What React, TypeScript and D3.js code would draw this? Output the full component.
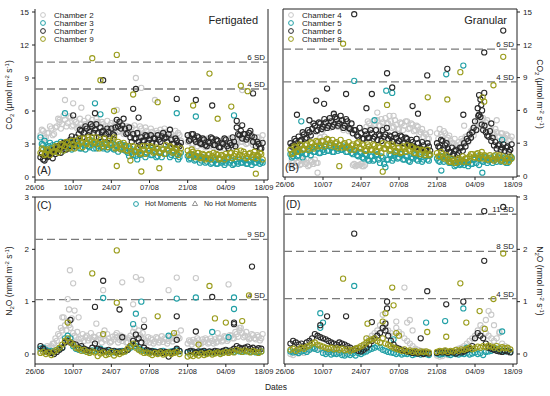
import React from 'react';
import * as d3 from 'd3';

// measurement days, counted from 26/06
const days = [
  2, 3, 4, 5, 6, 7, 8, 9, 10, 11,
  12, 13, 14, 15, 16, 17, 18, 19, 20, 21,
  22, 23, 24, 25, 26, 27, 28, 29, 30, 31,
  32, 33, 34, 35, 36, 37, 38, 39, 40, 41,
  42, 43, 44, 45, 46, 47, 48, 49, 50, 51,
  52, 53,
  56, 57, 58, 59, 60, 61, 62, 63, 64, 65,
  66, 67, 68, 69, 70, 71, 72, 73, 74, 75,
  76, 77, 78, 79, 80, 81, 82, 83,
];

const dateTicks = ['26/06', '10/07', '24/07', '07/08', '21/08', '04/09', '18/09'];

// ---- CO2, fertigated (two readings a day)
const co2Ch2 = [3.8, 4.2, 3.6, 4.0, 4.4, 3.9, 4.6, 5.0, 4.8, 5.2, 4.9, 5.4, 4.7, 5.0, 4.5, 4.8, 5.1, 4.6, 4.9, 5.2, 4.7, 5.0, 4.4, 4.8, 4.6, 4.3, 4.9, 4.5, 4.7, 4.2, 4.4, 4.0, 4.6, 4.1, 3.8, 4.3, 4.0, 4.4, 3.9, 4.2, 3.9, 4.1, 3.7, 4.0, 4.3, 3.8, 4.1, 3.6, 3.9, 3.7, 3.5, 3.8, 3.2, 3.5, 3.0, 3.4, 3.1, 2.9, 3.3, 3.0, 2.8, 3.1, 2.9, 3.2, 2.8, 3.0, 3.3, 2.9, 3.1, 3.4, 3.0, 3.6, 3.2, 3.5, 3.1, 3.3, 2.9, 3.2, 3.6, 3.4];
const co2Ch2b = [4.3, 3.5, 4.0, 4.6, 3.8, 4.5, 5.3, 4.4, 5.6, 4.6, 5.5, 4.6, 5.2, 4.4, 5.3, 4.5, 4.8, 5.4, 4.4, 4.6, 5.3, 4.5, 5.0, 4.2, 5.1, 4.7, 4.3, 5.0, 4.1, 4.8, 3.9, 4.6, 4.2, 4.5, 4.7, 3.9, 4.6, 3.8, 4.5, 3.7, 4.4, 3.6, 4.2, 3.5, 3.9, 4.4, 3.6, 4.3, 3.5, 4.2, 4.0, 3.3, 3.6, 3.0, 3.5, 2.8, 3.4, 3.2, 2.7, 3.5, 3.2, 2.7, 3.4, 2.7, 3.3, 2.6, 3.0, 3.5, 2.7, 3.0, 3.7, 3.2, 3.7, 3.0, 3.4, 3.8, 3.3, 3.6, 3.1, 3.8];
const co2Ch3 = [3.6, 2.9, 2.6, 2.8, 2.4, 2.7, 3.0, 2.6, 2.8, 3.1, 2.7, 2.9, 3.2, 2.8, 3.0, 2.6, 2.9, 3.1, 2.7, 3.3, 3.0, 2.8, 3.2, 2.6, 2.9, 2.7, 3.1, 2.5, 2.8, 2.6, 2.9, 2.4, 2.2, 2.6, 2.0, 1.9, 2.3, 2.1, 2.5, 2.2, 2.4, 2.0, 2.3, 1.9, 2.2, 2.5, 2.1, 2.4, 2.0, 2.3, 2.1, 1.8, 1.9, 1.7, 2.0, 1.6, 1.8, 1.5, 1.7, 1.4, 1.6, 1.3, 1.5, 1.2, 1.6, 1.4, 1.3, 1.7, 1.5, 1.2, 1.4, 1.6, 1.3, 1.5, 1.2, 1.4, 1.6, 1.3, 1.5, 1.4];
const co2Ch3b = [3.0, 3.3, 2.3, 3.1, 2.9, 2.3, 2.6, 3.2, 2.4, 2.7, 3.2, 2.5, 2.8, 3.3, 2.6, 3.1, 2.5, 2.8, 3.2, 2.6, 2.6, 3.1, 2.7, 3.0, 2.5, 3.1, 2.6, 2.9, 2.3, 3.0, 2.5, 2.8, 1.9, 2.3, 2.4, 1.6, 2.0, 2.5, 1.8, 2.6, 2.0, 2.5, 1.8, 2.3, 1.8, 2.1, 2.6, 1.8, 2.4, 1.9, 1.6, 2.2, 1.6, 2.0, 1.5, 1.9, 1.3, 1.8, 1.3, 1.7, 1.2, 1.6, 1.2, 1.6, 1.3, 1.1, 1.6, 1.3, 1.1, 1.6, 1.2, 1.3, 1.6, 1.2, 1.5, 1.1, 1.3, 1.6, 1.2, 1.3];
const co2Ch7 = [1.8, 1.6, 2.0, 1.9, 2.2, 2.5, 2.4, 2.8, 2.7, 3.0, 3.2, 3.4, 3.1, 3.6, 3.9, 4.2, 4.0, 4.4, 4.1, 4.6, 4.3, 4.0, 4.5, 4.2, 3.9, 4.1, 4.4, 3.8, 5.2, 5.0, 4.7, 4.4, 4.0, 3.6, 3.9, 3.5, 3.2, 3.6, 3.3, 3.7, 3.4, 3.1, 3.5, 3.8, 3.2, 4.0, 3.6, 3.9, 3.4, 3.0, 3.3, 2.8, 3.8, 3.4, 3.9, 3.2, 3.6, 3.0, 3.4, 2.8, 3.1, 3.5, 2.9, 3.3, 2.7, 3.0, 3.4, 2.6, 2.9, 3.2, 4.5, 3.8, 3.5, 3.9, 3.6, 4.2, 3.2, 2.8, 3.0, 2.6];
const co2Ch7b = [2.1, 1.5, 1.8, 2.3, 1.7, 2.1, 2.8, 2.2, 3.1, 2.5, 2.8, 3.7, 2.8, 3.3, 4.3, 3.6, 4.6, 3.8, 4.8, 4.0, 4.8, 3.6, 4.1, 3.6, 4.4, 3.5, 3.9, 4.5, 4.6, 4.4, 5.3, 3.9, 4.5, 3.2, 3.5, 4.0, 2.9, 3.3, 3.8, 3.1, 3.8, 3.5, 3.0, 3.4, 3.7, 3.5, 3.2, 4.3, 3.0, 3.5, 2.9, 3.1, 3.3, 3.9, 3.4, 3.7, 3.1, 3.5, 2.9, 3.2, 3.6, 2.9, 3.4, 2.7, 3.1, 3.5, 2.8, 3.1, 3.6, 2.8, 3.9, 4.2, 3.9, 3.4, 4.0, 3.7, 3.6, 3.2, 2.6, 3.1];
const co2Ch9 = [2.2, 2.5, 2.1, 2.4, 2.6, 2.3, 2.7, 2.5, 2.9, 2.8, 3.1, 2.7, 3.0, 3.3, 2.9, 3.2, 3.5, 3.0, 3.4, 3.6, 3.2, 3.0, 3.4, 2.8, 3.1, 3.3, 2.9, 3.6, 2.7, 3.0, 2.6, 2.9, 2.4, 1.5, 2.8, 2.3, 2.6, 2.2, 2.5, 2.8, 2.4, 2.7, 2.3, 2.6, 2.2, 2.5, 2.9, 2.4, 2.7, 2.3, 2.5, 2.2, 2.4, 2.1, 2.3, 1.9, 2.2, 1.8, 2.0, 1.7, 2.1, 1.9, 1.8, 2.0, 1.7, 1.9, 2.1, 1.8, 2.2, 1.9, 2.3, 2.0, 1.9, 2.1, 1.8, 2.2, 2.0, 1.7, 1.9, 2.1];
const co2Ch9b = [2.6, 2.0, 2.5, 2.0, 2.3, 2.8, 2.2, 3.0, 2.4, 3.2, 2.6, 3.3, 2.6, 2.8, 3.5, 2.7, 3.1, 3.6, 2.9, 3.1, 3.6, 2.6, 3.0, 3.5, 2.7, 2.9, 3.4, 2.6, 3.2, 2.5, 3.1, 2.4, 2.8, 2.1, 2.3, 2.7, 2.1, 2.8, 2.1, 2.4, 2.8, 2.2, 2.7, 2.2, 2.6, 2.1, 2.5, 2.8, 2.2, 2.6, 2.0, 2.6, 2.0, 2.5, 1.8, 2.2, 1.7, 2.1, 1.6, 2.0, 1.6, 2.2, 2.1, 1.6, 2.0, 1.6, 1.8, 2.2, 1.7, 2.1, 1.8, 2.4, 2.3, 1.7, 2.1, 1.8, 2.3, 2.0, 2.2, 1.6];

// high / scattered readings: [day, value]
const co2Ch2Peaks = [[11, 7.0], [14, 6.7], [37, 9.0], [39, 8.1], [17, 6.3], [9, 5.2], [44, 7.0], [30, 6.1], [76, 7.9]];
const co2Ch3Peaks = [[22, 6.7], [11, 5.8], [59, 5.5], [52, 5.8], [24, 5.7], [73, 5.6]];
const co2Ch7Peaks = [[25, 8.8], [37, 8.0], [80, 7.6], [59, 7.0], [65, 6.5], [52, 7.1], [36, 6.2], [14, 5.6], [22, 5.8], [38, 5.4], [74, 5.1], [76, 4.7]];
const co2Ch9Peaks = [[21, 10.8], [30, 11.1], [24, 8.8], [36, 7.5], [64, 9.4], [75.5, 8.3], [78, 7.8], [58, 6.5], [72, 6.4], [45, 6.8], [81, 0.3], [39, 0.5], [30, 1.0], [45.6, 0.8], [29, 6.0], [67, 5.3]];

// ---- CO2, granular
const co2Ch4 = [1.0, 1.2, 0.9, 1.3, 1.1, 1.4, 1.2, 1.0, 1.3, 1.5, 1.2, 3.5, 4.2, 4.6, 4.9, 5.2, 4.8, 5.4, 5.0, 4.7, 4.4, 4.6, 4.2, 1.0, 0.9, 1.0, 1.1, 0.9, 4.5, 4.8, 4.4, 4.7, 5.1, 4.6, 4.9, 5.3, 4.8, 5.0, 4.5, 4.7, 4.3, 4.8, 4.6, 5.0, 4.4, 4.7, 4.2, 4.5, 4.0, 3.6, 3.8, 3.4, 3.9, 4.3, 3.6, 3.9, 3.5, 3.2, 3.0, 2.8, 3.1, 3.4, 3.2, 3.6, 3.8, 4.2, 4.6, 5.0, 4.7, 5.3, 4.9, 4.5, 4.2, 3.8, 4.0, 3.6, 3.9, 3.5, 3.7, 3.3];
const co2Ch4b = [1.4, 0.9, 1.2, 1.0, 1.5, 1.1, 0.9, 1.4, 1.1, 1.2, 3.0, 4.0, 3.6, 5.0, 4.4, 4.6, 5.3, 4.5, 5.5, 4.2, 4.9, 4.1, 4.7, 1.1, 1.0, 1.0, 0.9, 1.0, 5.0, 4.3, 5.0, 4.2, 4.6, 5.2, 4.4, 4.8, 5.5, 4.4, 5.1, 4.3, 4.9, 4.2, 5.0, 4.3, 4.8, 4.1, 4.6, 3.8, 4.3, 3.9, 3.4, 4.0, 3.4, 3.8, 4.1, 3.3, 3.7, 3.0, 3.4, 2.6, 2.9, 3.2, 3.6, 3.1, 4.1, 3.7, 4.3, 4.8, 5.2, 4.5, 5.1, 4.1, 3.9, 4.3, 3.6, 3.9, 3.4, 3.8, 3.2, 3.6];
const co2Ch5 = [2.0, 1.8, 2.2, 1.9, 2.1, 2.4, 2.0, 2.3, 2.6, 2.2, 2.5, 2.1, 2.4, 2.7, 2.3, 2.6, 2.2, 2.5, 2.8, 2.4, 2.6, 2.2, 2.5, 2.0, 2.3, 1.8, 2.1, 1.6, 1.9, 1.4, 1.8, 1.5, 2.0, 1.2, 1.7, 0.8, 1.5, 1.9, 1.6, 2.1, 1.7, 2.0, 1.5, 1.8, 1.3, 1.6, 1.9, 1.4, 1.7, 1.5, 1.8, 1.4, 1.6, 1.3, 1.8, 1.5, 1.7, 1.2, 1.4, 1.0, 1.3, 1.1, 1.0, 1.2, 1.4, 1.1, 1.5, 1.8, 1.6, 1.3, 1.7, 1.4, 1.5, 1.8, 1.3, 1.6, 1.4, 1.7, 1.2, 1.5];
const co2Ch5b = [1.7, 2.3, 1.8, 2.2, 1.7, 2.0, 2.5, 1.9, 2.2, 2.7, 2.1, 2.6, 2.2, 2.3, 2.8, 2.2, 2.7, 2.3, 2.4, 2.7, 2.2, 2.6, 2.1, 2.4, 1.9, 2.2, 1.7, 2.0, 1.5, 1.8, 1.4, 1.9, 1.5, 1.8, 1.1, 1.5, 2.0, 1.4, 1.9, 1.6, 2.0, 1.5, 1.8, 1.4, 1.7, 2.0, 1.5, 1.8, 1.3, 1.9, 1.5, 1.9, 1.4, 1.8, 1.3, 1.7, 1.2, 1.5, 0.9, 1.2, 1.0, 1.4, 1.3, 0.9, 1.1, 1.5, 1.2, 1.0, 1.4, 1.7, 1.2, 1.6, 1.2, 1.5, 1.7, 1.3, 1.6, 1.2, 1.5, 1.7];
const co2Ch6 = [3.0, 2.8, 3.2, 3.6, 3.3, 3.8, 3.5, 4.0, 4.3, 4.6, 4.2, 4.8, 4.5, 4.9, 4.6, 5.0, 4.7, 5.2, 4.8, 5.1, 4.6, 5.0, 4.3, 3.9, 4.2, 3.6, 3.9, 3.4, 3.8, 3.5, 3.9, 3.6, 3.3, 3.7, 4.2, 3.8, 3.4, 3.6, 3.1, 3.5, 3.2, 3.6, 3.0, 3.4, 2.8, 3.1, 2.6, 3.0, 2.5, 2.8, 2.4, 2.7, 3.0, 2.6, 3.2, 2.8, 2.5, 2.2, 2.0, 2.4, 2.1, 2.6, 3.0, 3.4, 3.8, 4.0, 5.0, 6.2, 5.4, 4.2, 4.0, 3.6, 3.2, 2.8, 2.5, 2.9, 2.6, 2.3, 2.7, 2.4];
const co2Ch6b = [2.7, 3.4, 2.9, 3.2, 4.0, 3.4, 4.2, 3.7, 4.8, 4.1, 4.9, 4.3, 5.2, 4.4, 5.3, 4.5, 5.4, 4.6, 5.5, 4.4, 5.2, 4.4, 4.8, 4.2, 3.7, 4.4, 3.4, 4.1, 3.5, 4.2, 3.4, 4.2, 3.8, 3.2, 3.6, 4.4, 3.7, 3.2, 3.8, 3.0, 3.7, 3.0, 3.5, 2.9, 3.3, 2.7, 3.4, 2.6, 3.1, 2.4, 3.0, 2.3, 2.7, 3.3, 2.5, 3.0, 2.2, 2.6, 2.3, 1.9, 2.6, 2.3, 2.7, 3.2, 3.5, 4.4, 4.2, 5.6, 4.7, 4.6, 3.7, 4.1, 3.5, 3.1, 2.8, 2.4, 2.9, 2.6, 2.2, 2.9];
const co2Ch8 = [2.4, 2.1, 2.6, 2.3, 2.8, 2.5, 2.9, 2.6, 3.0, 2.7, 3.1, 2.8, 3.2, 2.9, 3.3, 3.0, 2.7, 3.1, 2.8, 2.6, 3.0, 2.7, 2.4, 2.9, 2.6, 3.1, 2.5, 2.8, 2.3, 2.7, 2.4, 2.8, 2.2, 2.6, 3.0, 2.5, 2.9, 2.4, 2.7, 2.3, 2.6, 2.2, 2.5, 2.8, 2.3, 2.6, 2.1, 2.4, 2.0, 2.3, 2.1, 1.9, 2.1, 1.8, 2.0, 1.7, 1.5, 1.3, 1.4, 1.2, 1.6, 1.5, 1.3, 1.6, 1.8, 2.0, 1.7, 2.1, 1.9, 1.6, 1.8, 1.5, 1.7, 1.4, 1.6, 1.9, 1.5, 1.3, 1.6, 1.8];
const co2Ch8b = [2.0, 2.7, 2.2, 2.9, 2.4, 2.8, 2.4, 3.1, 2.5, 3.2, 2.7, 3.2, 2.7, 3.4, 2.8, 3.3, 3.0, 2.6, 3.3, 2.9, 2.6, 3.1, 2.8, 2.4, 3.0, 2.6, 2.9, 2.3, 2.9, 2.4, 2.9, 2.3, 2.7, 2.1, 2.5, 2.8, 2.3, 2.9, 2.2, 2.6, 2.1, 2.7, 2.2, 2.4, 2.7, 2.1, 2.5, 2.0, 2.4, 1.9, 2.4, 2.0, 1.8, 2.2, 1.6, 1.9, 1.3, 1.6, 1.2, 1.5, 1.3, 1.8, 1.6, 1.3, 2.0, 1.7, 2.0, 1.6, 2.2, 1.9, 1.5, 1.9, 1.5, 1.9, 1.8, 1.4, 1.8, 1.6, 1.3, 1.6];

const co2Ch4Peaks = [[12, 0.3], [18, 5.6], [34, 5.8], [40, 5.5], [66, 4.6], [78, 5.1]];
const co2Ch5Peaks = [[25.5, 8.7], [37.3, 7.8], [39.5, 7.6], [59.4, 9.3], [65.7, 10.1], [72.7, 0.3], [57.6, 0.5], [33, 5.1], [6, 5.0], [80, 3.3]];
const co2Ch6Peaks = [[25.5, 14.8], [22.5, 7.5], [15.5, 8.0], [11.5, 6.9], [14.4, 6.6], [4.4, 5.6], [37.6, 9.4], [39.5, 8.1], [32, 7.5], [30, 6.2], [47, 6.4], [49, 5.7], [52.4, 9.2], [59.8, 9.8], [65.7, 5.6], [73.4, 11.3], [73.4, 7.6], [80.4, 13.3], [71.5, 7.4], [72, 7.0], [72.3, 6.5], [72.6, 6.0], [71.2, 5.5], [76, 4.8], [9, 5.1], [18, 5.7]];
const co2Ch8Peaks = [[21.4, 12.1], [37.6, 6.5], [52.6, 7.2], [59.8, 7.0], [64.6, 9.5], [73.4, 6.8], [76.8, 8.3], [80.4, 10.9], [72.8, 7.2], [20, 0.9], [36, 0.4]];

// ---- N2O, fertigated
const n2oCh2 = [0.05, 0.08, 0.1, 0.12, 0.15, 0.2, 0.25, 0.35, 0.45, 0.55, 0.62, 0.5, 0.4, 0.32, 0.28, 0.3, 0.25, 0.35, 0.3, 0.27, 0.32, 0.28, 0.3, 0.35, 0.26, 0.3, 0.24, 0.28, 0.32, 0.27, 0.25, 0.3, 0.22, 0.35, 0.42, 0.38, 0.45, 0.32, 0.28, 0.25, 0.22, 0.27, 0.24, 0.3, 0.26, 0.23, 0.28, 0.25, 0.3, 0.35, 0.4, 0.3, 0.2, 0.24, 0.27, 0.22, 0.26, 0.2, 0.23, 0.27, 0.22, 0.25, 0.28, 0.24, 0.3, 0.26, 0.32, 0.28, 0.35, 0.3, 0.38, 0.45, 0.4, 0.35, 0.32, 0.3, 0.36, 0.28, 0.33, 0.3];
const n2oCh2b = [0.1, 0.05, 0.15, 0.08, 0.2, 0.3, 0.38, 0.5, 0.7, 0.45, 0.55, 0.68, 0.35, 0.42, 0.22, 0.38, 0.32, 0.26, 0.4, 0.33, 0.25, 0.36, 0.22, 0.28, 0.38, 0.22, 0.33, 0.36, 0.22, 0.35, 0.32, 0.22, 0.3, 0.28, 0.5, 0.3, 0.36, 0.4, 0.22, 0.32, 0.3, 0.2, 0.32, 0.22, 0.34, 0.3, 0.2, 0.33, 0.24, 0.28, 0.32, 0.45, 0.26, 0.18, 0.22, 0.3, 0.2, 0.28, 0.3, 0.2, 0.3, 0.2, 0.22, 0.3, 0.24, 0.34, 0.25, 0.36, 0.3, 0.42, 0.33, 0.5, 0.32, 0.42, 0.28, 0.38, 0.3, 0.36, 0.26, 0.38];
const n2oCh3 = [0.1, 0.12, 0.08, 0.05, 0.06, 0.04, 0.08, 0.1, 0.12, 0.3, 0.35, 0.3, 0.15, 0.1, 0.08, 0.1, 0.06, 0.08, 0.05, 0.07, 0.06, 0.08, 0.1, 0.05, 0.07, 0.04, 0.06, 0.03, 0.05, 0.04, 0.06, 0.05, 0.08, 0.12, 0.18, 0.15, 0.1, 0.08, 0.06, 0.05, 0.04, 0.06, 0.05, 0.03, 0.04, 0.06, 0.02, 0.04, 0.05, 0.06, 0.08, 0.05, 0.03, 0.05, 0.04, 0.02, 0.03, 0.05, 0.04, 0.02, 0.04, 0.03, 0.02, 0.04, 0.03, 0.05, 0.04, 0.06, 0.05, 0.04, 0.06, 0.05, 0.04, 0.05, 0.06, 0.04, 0.05, 0.03, 0.04, 0.05];
const n2oCh7 = [0.15, 0.1, 0.05, 0.03, 0.02, 0.0, 0.04, 0.08, 0.12, 0.22, 0.25, 0.22, 0.2, 0.18, 0.12, 0.15, 0.1, 0.08, 0.06, 0.12, 0.2, 0.1, 0.08, 0.06, 0.05, 0.08, 0.04, 0.06, 0.03, 0.05, 0.04, 0.06, 0.08, 0.15, 0.25, 0.2, 0.3, 0.22, 0.12, 0.08, 0.06, 0.05, 0.04, 0.03, 0.05, 0.02, 0.04, -0.05, 0.03, 0.05, 0.1, 0.06, 0.04, 0.06, 0.05, 0.03, 0.05, 0.04, 0.06, 0.03, 0.05, 0.04, 0.06, 0.05, 0.04, 0.06, 0.08, 0.05, 0.07, 0.1, 0.15, 0.12, 0.1, 0.12, 0.14, 0.1, 0.12, 0.09, 0.11, 0.1];
const n2oCh9 = [0.02, 0.04, 0.0, 0.03, -0.02, 0.05, 0.08, 0.12, 0.18, 0.25, 0.3, 0.22, 0.18, 0.12, 0.1, 0.06, 0.08, 0.04, 0.02, 0.05, 0.03, -0.04, 0.01, 0.03, -0.02, 0.0, 0.04, -0.03, 0.02, 0.0, 0.03, 0.05, 0.1, 0.15, 0.2, 0.12, 0.08, 0.05, 0.02, 0.03, 0.01, -0.02, 0.02, 0.0, 0.03, -0.01, 0.01, 0.03, 0.0, 0.02, 0.04, 0.0, -0.05, -0.02, -0.04, 0.0, -0.03, 0.01, -0.02, 0.0, 0.02, -0.01, 0.01, 0.03, 0.0, 0.02, 0.04, 0.02, 0.05, 0.03, 0.08, 0.06, 0.04, 0.07, 0.05, 0.03, 0.06, 0.04, 0.02, 0.05];

const n2oCh2Peaks = [[12.8, 1.6], [14, 1.35], [12, 1.05], [12.5, 0.85], [14.5, 0.83], [25, 1.22], [37, 1.47], [39, 1.42], [32, 1.37], [49, 1.22], [52, 1.46], [59, 1.45], [71, 1.33], [36, 0.95], [22.5, 0.58], [16, 0.7], [25.5, 0.45], [40, 0.65], [75, 0.5], [67, 0.4], [30, 0.4], [10, 0.7]];
const n2oCh3Peaks = [[25, 1.07], [39, 1.0], [37, 0.77], [36, 0.57], [52, 1.06], [59, 1.08], [65, 0.42], [73, 1.08], [73, 0.86], [49, 0.35], [71, 0.32]];
const n2oCh7Peaks = [[25, 1.4], [22, 0.9], [31, 0.85], [40, 0.52], [37, 0.37], [52, 0.72], [59, 0.43], [65, 1.09], [73, 0.6], [73, 0.57], [79.6, 1.67], [32, 0.32], [13, 0.65], [52, 0.27]];
const n2oCh9Peaks = [[30, 1.98], [21, 1.54], [30, 0.98], [45, 0.72], [64, 1.3], [66, 0.68], [70, 0.6], [78.5, 1.12], [76, 0.63], [51, 0.4], [12, 0.6], [25, 0.38], [60, 0.18]];

// ---- N2O, granular
const n2oCh4 = [0.0, -0.02, 0.03, 0.01, 0.04, 0.02, 0.05, 0.08, 0.1, 0.12, 0.15, 0.1, 0.08, 0.06, 0.05, 0.04, 0.06, 0.03, 0.05, 0.04, 0.02, 0.04, 0.03, 0.05, 0.08, 0.1, 0.12, 0.15, 0.2, 0.3, 0.35, 0.4, 0.45, 0.55, 0.5, 0.6, 0.45, 0.4, 0.35, 0.5, 0.42, 0.38, 0.3, 0.25, 0.2, 0.15, 0.1, 0.08, 0.06, 0.05, 0.04, 0.02, -0.03, -0.05, -0.04, 0.0, -0.02, 0.02, 0.05, 0.08, 0.1, 0.12, 0.15, 0.2, 0.25, 0.3, 0.35, 0.45, 0.55, 0.5, 0.4, 0.35, 0.3, 0.25, 0.3, 0.4, 0.2, 0.15, 0.1, 0.08];
const n2oCh5 = [0.05, 0.03, 0.04, 0.02, 0.05, 0.06, 0.04, 0.08, 0.12, 0.1, 0.08, 0.5, 0.02, 0.0, 0.03, -0.01, 0.01, 0.0, 0.02, -0.02, -0.03, 0.0, -0.02, 0.01, -0.03, 0.02, 0.0, 0.03, 0.05, 0.08, 0.1, 0.12, 0.15, 0.12, 0.08, 0.06, 0.04, 0.03, 0.02, 0.0, 0.02, -0.01, 0.01, 0.0, 0.02, -0.02, 0.0, 0.01, -0.01, 0.02, 0.0, -0.02, 0.01, -0.01, 0.0, 0.02, 0.0, -0.02, 0.01, 0.0, -0.01, 0.01, 0.0, 0.02, -0.01, 0.01, 0.03, 0.0, 0.02, -0.02, 0.04, 0.05, 0.06, 0.08, 0.1, 0.06, 0.07, 0.05, 0.06, 0.04];
const n2oCh6 = [0.2, 0.25, 0.22, 0.18, 0.2, 0.15, 0.22, 0.25, 0.3, 0.38, 0.35, 0.32, 0.3, 0.28, 0.25, 0.22, 0.2, 0.18, 0.22, 0.2, 0.18, 0.15, 0.12, 0.08, 0.1, 0.06, 0.05, 0.08, 0.12, 0.18, 0.25, 0.3, 0.35, 0.4, 0.5, 0.45, 0.35, 0.25, 0.18, 0.12, 0.1, 0.08, 0.06, 0.05, 0.04, 0.02, 0.03, 0.01, 0.02, 0.0, 0.02, 0.01, 0.02, 0.04, 0.03, 0.05, 0.02, 0.04, 0.03, 0.01, 0.05, 0.03, 0.05, 0.08, 0.1, 0.15, 0.3, 0.4, 0.35, 0.3, 0.2, 0.12, 0.1, 0.08, 0.06, 0.05, 0.04, 0.06, 0.05, 0.03];
const n2oCh8 = [0.08, 0.1, 0.06, 0.09, 0.12, 0.1, 0.14, 0.16, 0.2, 0.22, 0.18, 0.16, 0.14, 0.12, 0.1, 0.12, 0.09, 0.11, 0.08, 0.1, 0.07, 0.09, 0.06, 0.08, 0.1, 0.12, 0.15, 0.18, 0.22, 0.25, 0.28, 0.3, 0.25, 0.22, 0.3, 0.2, 0.18, 0.15, 0.12, 0.1, 0.08, 0.06, 0.09, 0.05, 0.07, 0.04, 0.06, 0.03, 0.05, 0.04, 0.05, 0.03, 0.04, 0.06, 0.05, 0.07, 0.04, 0.06, 0.05, 0.08, 0.06, 0.09, 0.08, 0.1, 0.12, 0.09, 0.11, 0.14, 0.12, 0.15, 0.13, 0.16, 0.14, 0.12, 0.15, 0.1, 0.13, 0.11, 0.12, 0.09];

const n2oCh4Peaks = [[44, 1.27], [46, 0.65], [45, 0.6], [47, 0.45], [75, 0.82], [76, 0.75], [74, 0.65], [77, 0.55], [79, 0.42], [36, 0.75], [41, 0.62]];
const n2oCh5Peaks = [[25.5, 1.3], [13, 0.78], [52, 0.6], [59, 0.63], [65.7, 0.87], [80, 0.43], [40, 0.28], [14, 0.6], [67, 0.12]];
const n2oCh6Peaks = [[25.5, 2.3], [22.5, 0.72], [15.5, 0.72], [32, 0.61], [37.6, 1.0], [37.6, 0.87], [37, 0.58], [52.4, 1.2], [59.4, 0.95], [65.7, 1.0], [73.4, 1.78], [73.4, 2.73], [80.4, 2.81], [50, 0.3], [13, 0.55]];
const n2oCh8Peaks = [[21.4, 1.44], [39.5, 1.27], [30.4, 0.58], [30, 0.3], [37, 0.78], [40, 0.93], [41, 0.4], [42, 0.35], [52.4, 0.42], [59.4, 0.33], [64.6, 1.35], [66.8, 0.6], [71.7, 0.82], [76.8, 1.05], [80.4, 1.92], [73.6, 0.48], [36, 0.62]];

const C_GRAY = '#c9c9c9';
const C_TEAL = '#22a0a6';
const C_DARK = '#2a2a2a';
const C_OLIVE = '#9a9c1c';

const FONT = 'Liberation Sans, Arial, sans-serif';
const t0 = Date.UTC(2018, 5, 26);
const toDate = (d: number) => new Date(t0 + d * 86400000);
const parseTick = d3.utcParse('%d/%m/%Y');

type Series = { name: string; color: string; values: number[]; values2?: number[]; peaks: number[][] };

type PanelProps = {
  left: number; right: number; top: number; bottom: number;
  xStart: number; xEnd: number;
  yDomain: [number, number]; yRange: [number, number];
  yTicks: number[];
  axisRight?: boolean;
  series: Series[];
  sdLines: { value: number; label: string }[];
  letter: string;
  title?: string;
  yLabel: React.ReactNode;
  legend?: 'chambers' | 'moments';
  topBorder?: boolean;
};

const Panel: React.FC<PanelProps> = (p) => {
  const x = d3.scaleUtc()
    .domain([parseTick('26/06/2018')!, parseTick('18/09/2018')!])
    .range([p.xStart, p.xEnd]);
  const y = d3.scaleLinear().domain(p.yDomain).range(p.yRange);
  const axisX = p.axisRight ? p.right : p.left;
  const tickDir = p.axisRight ? 1 : -1;

  return (
    <g>
      {/* frame */}
      <line x1={p.left} x2={p.left} y1={p.top} y2={p.bottom} stroke="#222" strokeWidth={1} />
      <line x1={p.right} x2={p.right} y1={p.top} y2={p.bottom} stroke="#222" strokeWidth={1} />
      <line x1={p.left} x2={p.right} y1={p.bottom} y2={p.bottom} stroke="#222" strokeWidth={1} />
      {p.topBorder !== false && (
        <line x1={p.left} x2={p.right} y1={p.top} y2={p.top} stroke="#222" strokeWidth={1} />
      )}

      {/* y ticks */}
      {p.yTicks.map((t) => (
        <g key={t}>
          <line x1={axisX} x2={axisX + tickDir * 3} y1={y(t)} y2={y(t)} stroke="#222" />
          <text
            x={axisX + tickDir * 6}
            y={y(t)}
            dy="0.35em"
            textAnchor={p.axisRight ? 'start' : 'end'}
            fontSize={8}
            fontFamily={FONT}
            fill="#222"
          >
            {t}
          </text>
        </g>
      ))}

      {/* x ticks */}
      {dateTicks.map((lab) => {
        const px = x(parseTick(lab + '/2018')!);
        return (
          <g key={lab}>
            <line x1={px} x2={px} y1={p.bottom} y2={p.bottom + 3} stroke="#222" />
            <text x={px} y={p.bottom + 10} textAnchor="middle" fontSize={7.5} fontFamily={FONT} fill="#222">
              {lab}
            </text>
          </g>
        );
      })}

      {/* SD thresholds */}
      {p.sdLines.map((s) => (
        <g key={s.label}>
          <line
            x1={p.left}
            x2={p.right}
            y1={y(s.value)}
            y2={y(s.value)}
            stroke="#7a7a7a"
            strokeWidth={1.3}
            strokeDasharray="8,4"
          />
          <text x={p.right - 3} y={y(s.value) - 2} textAnchor="end" fontSize={8} fontFamily={FONT} fill="#222">
            {s.label}
          </text>
        </g>
      ))}

      {/* points */}
      {p.series.map((s) => (
        <g key={s.name} fill="none" stroke={s.color} strokeWidth={1.1}>
          {s.values.map((v, i) => (
            <circle key={'v' + i} cx={x(toDate(days[i]))} cy={y(v)} r={2.6} />
          ))}
          {(s.values2 || []).map((v, i) => (
            <circle key={'w' + i} cx={x(toDate(days[i] + 0.5))} cy={y(v)} r={2.6} />
          ))}
          {s.peaks.map((pk, i) => (
            <circle key={'p' + i} cx={x(toDate(pk[0]))} cy={y(pk[1])} r={2.6} />
          ))}
        </g>
      ))}

      {/* legends */}
      {p.legend === 'chambers' &&
        p.series.map((s, i) => (
          <g key={'lg' + s.name}>
            <circle cx={p.left + 8} cy={p.top + 6 + i * 8} r={2.4} fill="none" stroke={s.color} strokeWidth={1} />
            <text x={p.left + 19} y={p.top + 6 + i * 8} dy="0.35em" fontSize={8} fontFamily={FONT} fill="#222">
              {s.name}
            </text>
          </g>
        ))}
      {p.legend === 'moments' && (
        <g fontSize={7} fontFamily={FONT} fill="#222">
          <circle cx={p.left + 101} cy={p.top + 7} r={2.4} fill="none" stroke={C_TEAL} strokeWidth={1} />
          <text x={p.left + 110} y={p.top + 7} dy="0.35em">Hot Moments</text>
          <path
            d={d3.symbol(d3.symbolTriangle, 12)()!}
            transform={`translate(${p.left + 160},${p.top + 7})`}
            fill="none"
            stroke="#888"
            strokeWidth={0.9}
          />
          <text x={p.left + 169} y={p.top + 7} dy="0.35em">No Hot Moments</text>
        </g>
      )}

      {p.title && (
        <text x={p.right - 10} y={p.top + 15} textAnchor="end" fontSize={11} fontFamily={FONT} fill="#222">
          {p.title}
        </text>
      )}
      <text
        x={p.left + 2}
        y={p.letter === '(A)' || p.letter === '(B)' ? p.bottom - 6 : p.top + 12}
        fontSize={10.5}
        fontFamily={FONT}
        fill="#222"
      >
        {p.letter}
      </text>
      {p.yLabel}
    </g>
  );
};

const co2Label = (cx: number, cy: number, rot: number) => (
  <text
    transform={`translate(${cx},${cy}) rotate(${rot})`}
    textAnchor="middle"
    fontSize={8.5}
    fontFamily={FONT}
    fill="#222"
  >
    CO<tspan fontSize={6} dy={2}>2</tspan>
    <tspan dy={-2}> (μmol m</tspan>
    <tspan fontSize={6} dy={-3}>-2</tspan>
    <tspan dy={3}> s</tspan>
    <tspan fontSize={6} dy={-3}>-1</tspan>
    <tspan dy={3}>)</tspan>
  </text>
);

const n2oLabel = (cx: number, cy: number, rot: number) => (
  <text
    transform={`translate(${cx},${cy}) rotate(${rot})`}
    textAnchor="middle"
    fontSize={8.5}
    fontFamily={FONT}
    fill="#222"
  >
    N<tspan fontSize={6} dy={2}>2</tspan>
    <tspan dy={-2}>O (nmol m</tspan>
    <tspan fontSize={6} dy={-3}>-2</tspan>
    <tspan dy={3}> s</tspan>
    <tspan fontSize={6} dy={-3}>-1</tspan>
    <tspan dy={3}>)</tspan>
  </text>
);

export default function App() {
  const fertCo2: Series[] = [
    { name: 'Chamber 2', color: C_GRAY, values: co2Ch2, values2: co2Ch2b, peaks: co2Ch2Peaks },
    { name: 'Chamber 3', color: C_TEAL, values: co2Ch3, values2: co2Ch3b, peaks: co2Ch3Peaks },
    { name: 'Chamber 7', color: C_DARK, values: co2Ch7, values2: co2Ch7b, peaks: co2Ch7Peaks },
    { name: 'Chamber 9', color: C_OLIVE, values: co2Ch9, values2: co2Ch9b, peaks: co2Ch9Peaks },
  ];
  const granCo2: Series[] = [
    { name: 'Chamber 4', color: C_GRAY, values: co2Ch4, values2: co2Ch4b, peaks: co2Ch4Peaks },
    { name: 'Chamber 5', color: C_TEAL, values: co2Ch5, values2: co2Ch5b, peaks: co2Ch5Peaks },
    { name: 'Chamber 6', color: C_DARK, values: co2Ch6, values2: co2Ch6b, peaks: co2Ch6Peaks },
    { name: 'Chamber 8', color: C_OLIVE, values: co2Ch8, values2: co2Ch8b, peaks: co2Ch8Peaks },
  ];
  const fertN2o: Series[] = [
    { name: 'Chamber 2', color: C_GRAY, values: n2oCh2, values2: n2oCh2b, peaks: n2oCh2Peaks },
    { name: 'Chamber 3', color: C_TEAL, values: n2oCh3, peaks: n2oCh3Peaks },
    { name: 'Chamber 7', color: C_DARK, values: n2oCh7, peaks: n2oCh7Peaks },
    { name: 'Chamber 9', color: C_OLIVE, values: n2oCh9, peaks: n2oCh9Peaks },
  ];
  const granN2o: Series[] = [
    { name: 'Chamber 4', color: C_GRAY, values: n2oCh4, peaks: n2oCh4Peaks },
    { name: 'Chamber 5', color: C_TEAL, values: n2oCh5, peaks: n2oCh5Peaks },
    { name: 'Chamber 6', color: C_DARK, values: n2oCh6, peaks: n2oCh6Peaks },
    { name: 'Chamber 8', color: C_OLIVE, values: n2oCh8, peaks: n2oCh8Peaks },
  ];

  return (
    <svg
      width={550}
      height={396}
      style={{ position: 'absolute', left: 0, top: 0, background: '#fff' }}
    >
      <Panel
        left={35} right={268} top={9} bottom={180}
        xStart={35} xEnd={264}
        yDomain={[0, 15]} yRange={[177, 12]} yTicks={[0, 3, 6, 9, 12, 15]}
        series={fertCo2}
        sdLines={[{ value: 10.45, label: '6 SD' }, { value: 8.0, label: '4 SD' }]}
        letter="(A)" title="Fertigated" legend="chambers" topBorder={false}
        yLabel={co2Label(12, 95, -90)}
      />
      <Panel
        left={283} right={517} top={9} bottom={177}
        xStart={285} xEnd={513}
        yDomain={[0, 15]} yRange={[176, 12]} yTicks={[0, 3, 6, 9, 12, 15]}
        axisRight
        series={granCo2}
        sdLines={[{ value: 11.6, label: '6 SD' }, { value: 8.6, label: '4 SD' }]}
        letter="(B)" title="Granular" legend="chambers"
        yLabel={co2Label(537, 94, 90)}
      />
      <Panel
        left={35} right={268} top={197} bottom={364}
        xStart={35} xEnd={264}
        yDomain={[0, 3]} yRange={[354, 197]} yTicks={[0, 1, 2, 3]}
        series={fertN2o}
        sdLines={[{ value: 2.19, label: '9 SD' }, { value: 1.04, label: '4 SD' }]}
        letter="(C)" legend="moments"
        yLabel={n2oLabel(12, 281, -90)}
      />
      <Panel
        left={284} right={517} top={196} bottom={364}
        xStart={285} xEnd={513}
        yDomain={[0, 3]} yRange={[354, 197]} yTicks={[0, 1, 2, 3]}
        axisRight
        series={granN2o}
        sdLines={[
          { value: 2.67, label: '11 SD' },
          { value: 1.96, label: '8 SD' },
          { value: 1.06, label: '4 SD' },
        ]}
        letter="(D)"
        yLabel={n2oLabel(537, 281, 90)}
      />
      <text x={276} y={390} textAnchor="middle" fontSize={8.5} fontFamily={FONT} fill="#222">
        Dates
      </text>
    </svg>
  );
}
